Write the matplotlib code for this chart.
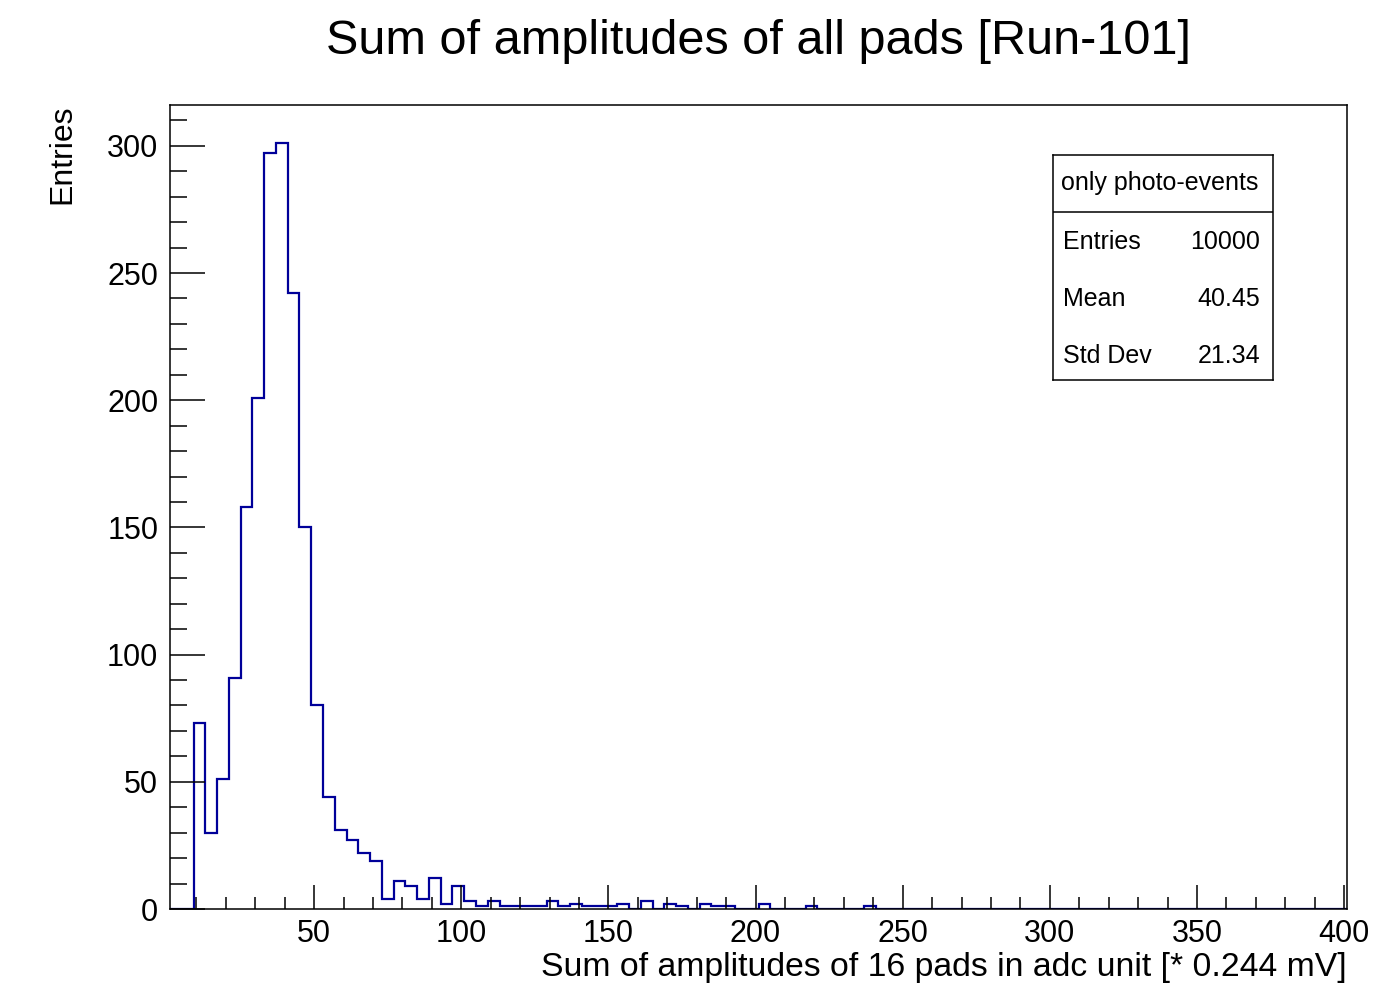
import numpy as np
import matplotlib
matplotlib.use("Agg")
import matplotlib.pyplot as plt
from matplotlib.ticker import MultipleLocator

plt.rcParams["font.family"] = ["Liberation Sans", "DejaVu Sans"]

# histogram: 100 bins from 1 to 401 (bin width 4)
x_min, x_max, n_bins = 1, 401, 100
counts = [0, 0, 73, 30, 51, 91, 158, 201, 297, 301,
          242, 150, 80, 44, 31, 27, 22, 19, 4, 11,
          9, 4, 12, 2, 9, 3, 1, 3, 1, 1,
          1, 1, 3, 1, 2, 1, 1, 1, 2, 0,
          3, 0, 2, 1, 0, 2, 1, 1, 0, 0,
          2, 0, 0, 0, 1, 0, 0, 0, 0, 1,
          0, 0, 0, 0, 0, 0, 0, 0, 0, 0,
          0, 0, 0, 0, 0, 0, 0, 0, 0, 0,
          0, 0, 0, 0, 0, 0, 0, 0, 0, 0,
          0, 0, 0, 0, 0, 0, 0, 0, 0, 0]
edges = np.linspace(x_min, x_max, n_bins + 1)

stats_title = "only photo-events"
stats_names = ["Entries", "Mean", "Std Dev"]
stats_values = ["10000", "40.45", "21.34"]

fig = plt.figure(figsize=(13.73, 9.88), dpi=100)
ax = fig.add_axes([170 / 1373, 79 / 988, 1177 / 1373, 804 / 988])

ax.stairs(counts, edges, color="#000099", linewidth=1.6, zorder=1)

ax.set_xlim(x_min, x_max)
ax.set_ylim(0, 1.05 * max(counts))

ax.xaxis.set_major_locator(MultipleLocator(50))
ax.xaxis.set_minor_locator(MultipleLocator(10))
ax.yaxis.set_major_locator(MultipleLocator(50))
ax.yaxis.set_minor_locator(MultipleLocator(10))

ax.tick_params(axis="both", which="both", direction="in", width=1.1,
               top=False, right=False, labelsize=22)
ax.tick_params(axis="x", which="major", length=17.5, pad=7)
ax.tick_params(axis="x", which="minor", length=8.6)
ax.tick_params(axis="y", which="major", length=25, pad=8.5)
ax.tick_params(axis="y", which="minor", length=12.5)
for s in ax.spines.values():
    s.set_linewidth(1.1)

ax.set_title("Sum of amplitudes of all pads [Run-101]", fontsize=35, pad=37)
ax.set_xlabel("Sum of amplitudes of 16 pads in adc unit [* 0.244 mV]",
              fontsize=24.3, loc="right", labelpad=2)
ax.set_ylabel("Entries", fontsize=23, loc="top", labelpad=21)

# stats box
sb = fig.add_axes([1053 / 1373, (988 - 380) / 988, 220 / 1373, 225 / 988])
sb.set_xticks([])
sb.set_yticks([])
sb.set_xlim(0, 1)
sb.set_ylim(0, 1)
for s in sb.spines.values():
    s.set_linewidth(1.1)
sb.axhline(0.748, color="black", linewidth=1.1)
sb.text(0.485, 0.874, stats_title, fontsize=18, ha="center", va="center")
for i, (n, v) in enumerate(zip(stats_names, stats_values)):
    yy = [0.613, 0.36, 0.107][i]
    sb.text(0.044, yy, n, fontsize=18, ha="left", va="center")
    sb.text(0.943, yy, v, fontsize=18, ha="right", va="center")

fig.savefig("out.png", dpi=100)
